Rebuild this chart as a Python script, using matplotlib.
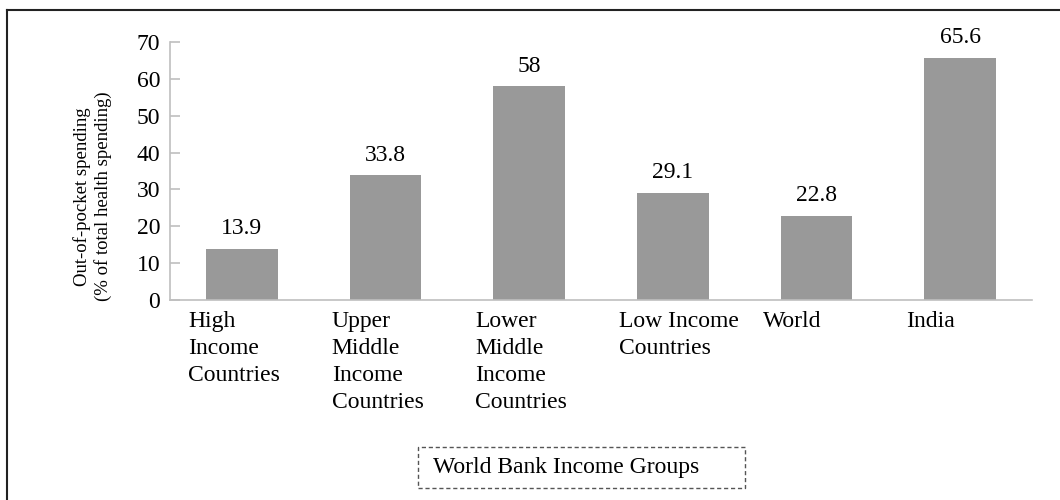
import matplotlib.pyplot as plt
import matplotlib.patches as patches
from matplotlib.lines import Line2D
import numpy as np

plt.rcParams['font.family'] = ['Liberation Serif', 'DejaVu Serif']

# Out-of-pocket spending, % of total health spending
grupos = ["High\nIncome\nCountries", "Upper\nMiddle\nIncome\nCountries",
          "Lower\nMiddle\nIncome\nCountries", "Low Income\nCountries",
          "World", "India"]
valores = [13.9, 33.8, 58, 29.1, 22.8, 65.6]
rotulos = ["13.9", "33.8", "58", "29.1", "22.8", "65.6"]

x = np.arange(len(grupos))
cinza_eixo = '#bfbfbf'

fig = plt.figure(figsize=(10.6, 5), dpi=100)
ax = fig.add_axes([0.1604, 0.4, 0.8132, 0.516])

barras = ax.bar(x, valores, width=0.5, color='#999999')

ax.set_xlim(-0.5, len(grupos) - 0.5)
ax.set_ylim(0, 70)
ax.set_yticks(np.arange(0, 71, 10))

for lado in ['top', 'right']:
    ax.spines[lado].set_visible(False)
for lado in ['left', 'bottom']:
    ax.spines[lado].set_color(cinza_eixo)
    ax.spines[lado].set_linewidth(1.2)

ax.tick_params(axis='y', direction='in', length=7.5, width=1.2,
               color=cinza_eixo, labelsize=17, pad=7)

# rótulos das categorias alinhados à esquerda de cada faixa
ax.set_xticks(x - 0.375)
ax.set_xticklabels(grupos, ha='left', va='top', linespacing=1.38)
ax.tick_params(axis='x', length=0, labelsize=17, pad=8)

# valores acima das colunas
for barra, texto in zip(barras, rotulos):
    ax.annotate(texto, (barra.get_x() + barra.get_width() / 2, barra.get_height()),
                xytext=(0, 7), textcoords='offset points',
                ha='center', va='bottom', fontsize=17)

fig.text(0.087, 0.607, "Out-of-pocket spending\n(% of total health spending)",
         rotation=90, ha='center', va='center', multialignment='center',
         fontsize=13.5, linespacing=1.2)

# caixa tracejada do título do eixo x
caixa = patches.Rectangle((418 / 1060, 12 / 500), 327 / 1060, 41 / 500,
                          transform=fig.transFigure, fill=False,
                          edgecolor='#555555', linestyle=(0, (3, 2)), linewidth=1)
fig.add_artist(caixa)
fig.text(433 / 1060, 33 / 500, "World Bank Income Groups",
         ha='left', va='center', fontsize=17)

# moldura (esquerda e topo)
fig.add_artist(Line2D([7 / 1060, 7 / 1060], [0, 1 - 10 / 500],
                      transform=fig.transFigure, color='#222222', linewidth=1.5))
fig.add_artist(Line2D([7 / 1060, 1], [1 - 10 / 500, 1 - 10 / 500],
                      transform=fig.transFigure, color='#222222', linewidth=1.5))

fig.savefig('out.png', dpi=100)
